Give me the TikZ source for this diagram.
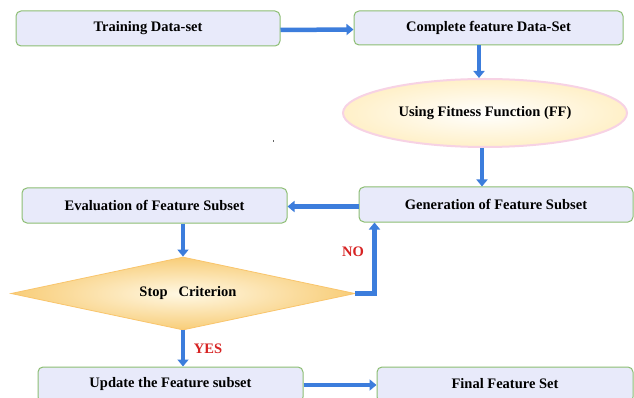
\documentclass[tikz,border=0pt]{standalone}
\usepackage{fontspec}
\setmainfont{Liberation Serif}
\usetikzlibrary{shapes.geometric,arrows.meta}
\definecolor{boxfill}{RGB}{232,234,250}
\definecolor{boxline}{RGB}{140,190,115}
\definecolor{arrblue}{RGB}{60,125,220}
\definecolor{ellfill}{RGB}{255,240,200}
\definecolor{ellline}{RGB}{247,210,228}
\definecolor{diaout}{RGB}{248,205,120}
\definecolor{diain}{RGB}{255,248,228}
\definecolor{labred}{RGB}{215,35,35}
\tikzset{
  txt/.style={font=\fontsize{14.5}{16}\selectfont\bfseries},
  stepbox/.style={txt, draw=boxline, line width=1pt, fill=boxfill, rounded corners=5pt,
    inner sep=0pt},
  arr/.style={draw=arrblue, line width=4.5pt, line join=miter,
    -{Triangle[width=11pt,length=7pt]}},
  lab/.style={txt, text=labred}
}
\begin{document}
\begin{tikzpicture}[x=1pt,y=-1pt]
\fill[white] (0,0) rectangle (634,398);
\clip (0,0) rectangle (634,398);
\useasboundingbox (0,0) rectangle (634,398);

\node[stepbox, minimum width=264pt, minimum height=35pt] (tr) at (148,28.5) {Training Data-set};
\node[stepbox, minimum width=269pt, minimum height=34pt] (cf) at (488.5,28) {Complete feature Data-Set};
\node[txt, ellipse, draw=ellline, line width=2pt, inner color=white, outer color=ellfill,
  minimum width=284pt, minimum height=68pt, inner sep=0pt] (ff) at (485,113) {\raisebox{4pt}{Using Fitness Function (FF)}};
\node[stepbox, minimum width=274pt, minimum height=35pt] (gen) at (496,204.5) {Generation of Feature Subset};
\node[stepbox, minimum width=265pt, minimum height=35pt] (ev) at (154.5,205.5) {Evaluation of Feature Subset};
\node[txt, diamond, aspect=4.7, draw=diaout!90!orange, line width=0.8pt, inner color=diain, outer color=diaout,
  minimum width=344pt, minimum height=73pt, inner sep=0pt] (stop) at (183,293.5) {\raisebox{2pt}{\hspace{10pt}Stop\hspace{0.75em}Criterion}};
\node[stepbox, minimum width=265pt, minimum height=35pt] (upd) at (170.5,384.5) {\raisebox{2.5pt}{Update the Feature subset}};
\node[stepbox, minimum width=256pt, minimum height=35pt] (fin) at (505,384.5) {\raisebox{2.5pt}{Final Feature Set}};

\draw[arr] ([yshift=-1.5pt]tr.east) -- ([yshift=-1.5pt]cf.west);
\draw[arr] ([xshift=-9.5pt]cf.south) -- ([xshift=-9.5pt]cf.south |- ff.north);
\draw[arr] ([xshift=-3pt]ff.south) -- ([xshift=-3pt]ff.south |- gen.north);
\draw[arr] ([yshift=-2pt]gen.west) -- ([yshift=-2pt]gen.west -| ev.east);
\draw[arr] (ev.south -| stop.north) -- (stop.north);
\draw[arr] (stop.east) -| ([xshift=16pt]gen.south west);
\draw[arr] (stop.south) -- (stop.south |- upd.north);
\draw[arr] ([yshift=-0.5pt]upd.east) -- ([yshift=-0.5pt]upd.east -| fin.west);

\node[lab] (no) at (353,252) {NO};
\node[lab] (yes) at (208,349) {YES};
\fill[black!60] (272.5,140.5) rectangle (274,142) coordinate (speck);
\end{tikzpicture}
\end{document}
